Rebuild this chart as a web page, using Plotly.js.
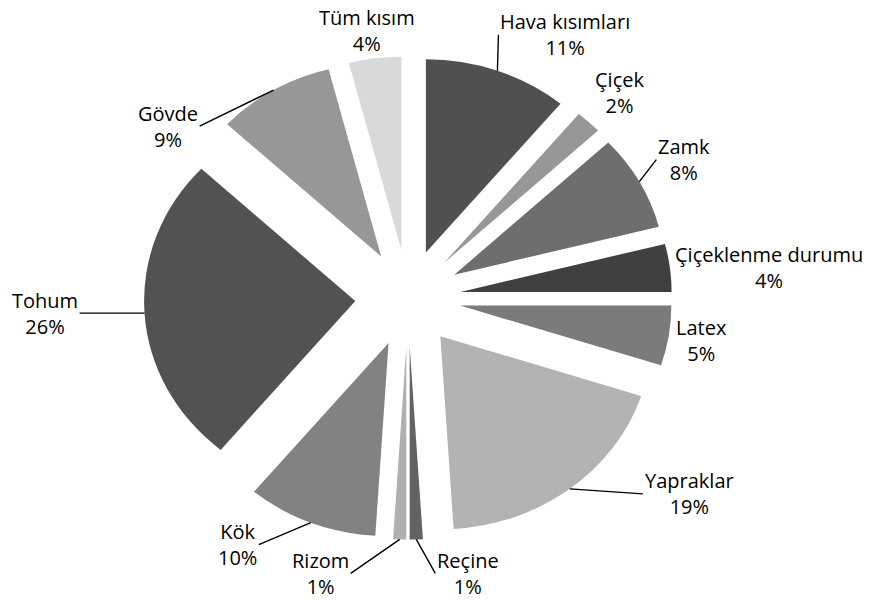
<!DOCTYPE html>
<html>
<head>
<meta charset="utf-8">
<script src="https://cdn.plot.ly/plotly-3.0.1.min.js"></script>
<style>
  html, body { margin: 0; padding: 0; background: #ffffff; }
  #chart { width: 874px; height: 600px; }
</style>
</head>
<body>
<div id="chart"></div>
<script>
// ---- data ----
const categories = ["Hava kısımları", "Çiçek", "Zamk", "Çiçeklenme durumu", "Latex", "Yapraklar",
                    "Reçine", "Rizom", "Kök", "Tohum", "Gövde", "Tüm kısım"];
const values = [11, 2, 8, 4, 5, 19, 1, 1, 10, 26, 9, 4];
const sliceColors = ["#505050", "#979797", "#6e6e6e", "#404040", "#7b7b7b", "#b3b3b3",
                     "#636363", "#b0b0b0", "#828282", "#525252", "#979797", "#d9d9d9"];

// ---- label placement (pixel offsets of each label from its slice edge) ----
const labelOffsetX = [1, 31, 17, 99, 33, 73, 19, -49, -52, -65, -74, -8];
const labelOffsetY = [-36, -29, -22, 0, 5, 5, 34, 34, 22, 0, 36, -28];
const labelSide = ["left", "center", "left", "center", "center", "left",
                   "left", "right", "right", "right", "right", "center"];
const hasLeader = [true, false, true, false, false, true, true, true, true, true, true, false];

// ---- geometry / layout ----
const W = 874, H = 600;
const margin = {l: 144, r: 202, t: 34, b: 38};
const pullFrac = 0.25;
const yScale = 0.915;   // vertical squeeze of the pie (reference is slightly elliptical)

const plotW = W - margin.l - margin.r;
const plotH = H - margin.t - margin.b;
const cx = margin.l + plotW / 2;
const cy = margin.t + plotH / 2;
const R = Math.min(plotW, plotH) / 2 / (1 + pullFrac);
const outerR = R * (1 + pullFrac);

const toPaperX = px => (px - margin.l) / plotW;
const toPaperY = py => 1 - (py - margin.t) / plotH;

const total = values.reduce((a, b) => a + b, 0);
const annotations = [];
let cum = 0;
values.forEach((v, i) => {
  const mid = (cum + v / 2) / total * 2 * Math.PI;
  cum += v;
  const px = cx + outerR * Math.sin(mid);
  const py = cy - yScale * outerR * Math.cos(mid);
  const pct = Math.round(v / total * 100) + "%";
  const a = {
    xref: "paper", yref: "paper",
    text: categories[i] + "<br>" + pct,
    font: {family: "Open Sans, sans-serif", size: 20, color: "#000000"},
    align: "center",
    xanchor: labelSide[i], yanchor: "middle"
  };
  if (hasLeader[i]) {
    Object.assign(a, {x: toPaperX(px), y: toPaperY(py),
                      showarrow: true, arrowhead: 0, arrowwidth: 1.4, arrowcolor: "#000000",
                      ax: labelOffsetX[i], ay: labelOffsetY[i], standoff: 0, startstandoff: 0});
  } else {
    Object.assign(a, {x: toPaperX(px + labelOffsetX[i]), y: toPaperY(py + labelOffsetY[i]),
                      showarrow: false});
  }
  annotations.push(a);
});

const trace = {
  type: "pie",
  labels: categories,
  values: values,
  sort: false,
  direction: "clockwise",
  rotation: 0,
  pull: values.map(() => pullFrac),
  textinfo: "none",
  hoverinfo: "none",
  marker: {colors: sliceColors, line: {width: 0}}
};

const layout = {
  width: W, height: H,
  margin: margin,
  showlegend: false,
  paper_bgcolor: "#ffffff",
  plot_bgcolor: "#ffffff",
  font: {family: "Open Sans, sans-serif", size: 20, color: "#000000"},
  annotations: annotations
};

Plotly.newPlot("chart", [trace], layout, {displayModeBar: false, staticPlot: true}).then(gd => {
  const pl = gd.querySelector(".pielayer");
  if (pl) pl.setAttribute("transform",
    "translate(0," + cy + ") scale(1," + yScale + ") translate(0," + (-cy) + ")");
});
</script>
</body>
</html>
